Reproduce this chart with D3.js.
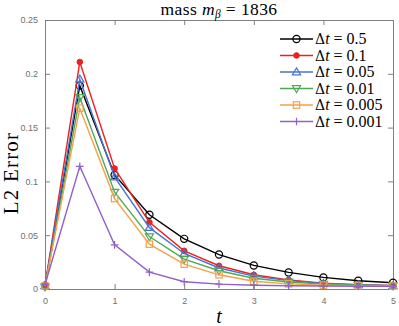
<!DOCTYPE html>
<html><head><meta charset="utf-8">
<script src="https://cdn.jsdelivr.net/npm/d3@7"></script>
<style>body{margin:0;background:#fff}svg{display:block}</style>
</head><body>
<svg id="c" width="399" height="326"></svg>
<script>
const times = [0,0.5,1,1.5,2,2.5,3,3.5,4,4.5,5];
const labels = ["0.5","0.1","0.05","0.01","0.005","0.001"];
const colors = ["#000000","#ee2020","#4a72d0","#4fa853","#f5a04a","#9160c8"];
const markers = ["circle","dot","tri","tridown","square","plus"];
const s_05   = [0.003,0.189,0.106,0.069,0.0466,0.032,0.0219,0.0154,0.0108,0.0077,0.0058];
const s_01   = [0.003,0.211,0.112,0.062,0.0355,0.0216,0.0132,0.0085,0.0055,0.0040,0.0032];
const s_005  = [0.003,0.195,0.104,0.057,0.0330,0.0195,0.0120,0.0078,0.0052,0.0038,0.0030];
const s_001  = [0.002,0.178,0.090,0.0487,0.0278,0.0170,0.0100,0.0065,0.0045,0.0035,0.0030];
const s_0005 = [0.003,0.168,0.084,0.0417,0.0231,0.0132,0.0072,0.0048,0.0036,0.0030,0.0028];
const s_0001 = [0.004,0.114,0.041,0.0157,0.0068,0.0045,0.0035,0.0030,0.0028,0.0026,0.0025];
const series = [s_05,s_01,s_005,s_001,s_0005,s_0001];
const xTicks = [0,1,2,3,4,5];
const yTicks = [0,0.05,0.1,0.15,0.2,0.25];

const svg = d3.select("#c");
const L=45,R=393,T=20,B=289;
const x = d3.scaleLinear().domain([0,5]).range([L,R]);
const y = d3.scaleLinear().domain([0,0.25]).range([B,T]);
const axc="#808080";
const tickFont="'Liberation Sans', Arial, sans-serif";

function styleAxis(g){
  g.selectAll("path.domain").attr("stroke",axc).attr("stroke-width",1);
  g.selectAll(".tick line").attr("stroke",axc);
  g.selectAll(".tick text").attr("fill","#707070").attr("font-family",tickFont).attr("font-size",9);
}
svg.append("g").attr("transform",`translate(0,${B})`)
  .call(d3.axisBottom(x).tickValues(xTicks).tickSize(-5).tickPadding(9).tickSizeOuter(0).tickFormat(d3.format("d"))).call(styleAxis);
svg.append("g").attr("transform",`translate(0,${T})`)
  .call(d3.axisTop(x).tickValues(xTicks).tickSize(-5).tickSizeOuter(0).tickFormat("")).call(styleAxis);
svg.append("g").attr("transform",`translate(${L},0)`)
  .call(d3.axisLeft(y).tickValues(yTicks).tickSize(-5).tickPadding(7).tickSizeOuter(0).tickFormat(d=>d===0?"0":String(d))).call(styleAxis);
svg.append("g").attr("transform",`translate(${R},0)`)
  .call(d3.axisRight(y).tickValues(yTicks).tickSize(-5).tickSizeOuter(0).tickFormat("")).call(styleAxis);

const line = d3.line().x((d,i)=>x(times[i])).y(d=>y(d));

function drawMarker(g,type,cx,cy,col){
  const sz=3.6;
  if(type==="circle") g.append("circle").attr("cx",cx).attr("cy",cy).attr("r",sz).attr("fill","none").attr("stroke",col).attr("stroke-width",1.2);
  else if(type==="dot") g.append("circle").attr("cx",cx).attr("cy",cy).attr("r",2.8).attr("fill",col).attr("stroke",col);
  else if(type==="tri") g.append("path").attr("d",`M${cx},${cy-sz-0.5}L${cx+sz+0.5},${cy+sz-0.8}L${cx-sz-0.5},${cy+sz-0.8}Z`).attr("fill","none").attr("stroke",col).attr("stroke-width",1.2);
  else if(type==="tridown") g.append("path").attr("d",`M${cx},${cy+sz+0.5}L${cx+sz+0.5},${cy-sz+0.8}L${cx-sz-0.5},${cy-sz+0.8}Z`).attr("fill","none").attr("stroke",col).attr("stroke-width",1.2);
  else if(type==="square") g.append("rect").attr("x",cx-3.2).attr("y",cy-3.2).attr("width",6.4).attr("height",6.4).attr("fill","none").attr("stroke",col).attr("stroke-width",1.2);
  else if(type==="plus") g.append("path").attr("d",`M${cx-3.8},${cy}H${cx+3.8}M${cx},${cy-3.8}V${cy+3.8}`).attr("stroke",col).attr("stroke-width",1.2);
}

series.forEach((s,k)=>{
  const g=svg.append("g");
  g.append("path").datum(s).attr("d",line).attr("fill","none").attr("stroke",colors[k]).attr("stroke-width",1.4);
  s.forEach((v,i)=>drawMarker(g,markers[k],x(times[i]),y(v),colors[k]));
});

// legend
const lg=svg.append("g");
labels.forEach((lab,k)=>{
  const yy=39+k*16.5;
  lg.append("line").attr("x1",280).attr("x2",313).attr("y1",yy).attr("y2",yy).attr("stroke",colors[k]).attr("stroke-width",1.4);
  drawMarker(lg,markers[k],296.5,yy,colors[k]);
  const t=lg.append("text").attr("x",315).attr("y",yy+5).attr("font-family","'DejaVu Serif', serif").attr("font-size",14).attr("fill","#000");
  t.append("tspan").text("Δ");
  t.append("tspan").attr("font-style","italic").attr("font-family","'Liberation Serif', serif").attr("font-size",16).text("t");
  t.append("tspan").attr("font-family","'Liberation Serif', serif").attr("font-size",16).text(" = "+lab);
});

// title
const tt=svg.append("text").attr("x",219).attr("y",15).attr("text-anchor","middle").attr("font-family","'Liberation Serif', serif").attr("font-size",17.5).attr("letter-spacing",0.4).attr("fill","#000");
tt.append("tspan").text("mass ");
tt.append("tspan").attr("font-style","italic").text("m");
tt.append("tspan").attr("font-style","italic").attr("font-size",11.5).attr("dy",3).text("β");
tt.append("tspan").attr("dy",-3).text(" = 1836");

// axis labels
svg.append("text").attr("transform","translate(18,173) rotate(-90)").attr("text-anchor","middle").attr("font-family","'Liberation Serif', serif").attr("font-size",21).attr("letter-spacing",1.2).attr("fill","#000").text("L2 Error");
svg.append("text").attr("x",219).attr("y",323).attr("text-anchor","middle").attr("font-family","'Liberation Serif', serif").attr("font-style","italic").attr("font-size",20).attr("fill","#000").text("t");
</script>
</body></html>
